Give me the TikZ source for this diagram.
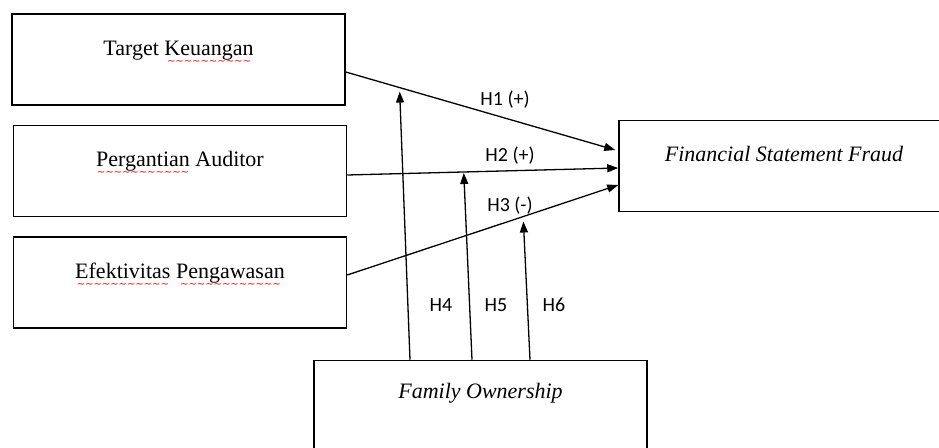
\documentclass[tikz,border=0pt]{standalone}
\usepackage{fontspec}
\setmainfont{Liberation Serif}
\newfontfamily\hfont{Carlito}
\newfontfamily\wfont{DejaVu Sans}
\usetikzlibrary{arrows.meta,calc}
\newcommand\spell[1]{\setbox0\hbox{#1}\rlap{\copy0}%
   \raisebox{-4.4pt}{\hbox to\wd0{\color{red}\wfont\fontsize{5}{5}\selectfont\cleaders\hbox{\char"223C}\hfill}}}

\begin{document}
\begin{tikzpicture}[x=0.5pt,y=-0.5pt,
   box/.style={draw,line width=0.75pt,minimum width=166.5pt,minimum height=45.5pt,
     inner sep=0pt,text height=8pt,text depth=12pt,font=\fontsize{11}{13}\selectfont},
   link/.style={-{Triangle[length=5.5pt,width=4pt]},line width=0.65pt},
   hyp/.style={font=\hfont\fontsize{10}{12}\selectfont}]
   \useasboundingbox (0,0) rectangle (939,448);
   % variables
   \node[box] (tk) at (178.5,59.5) {Target \spell{Keuangan}};
   \node[box] (pa) at (180,171) {\spell{Pergantian} Auditor};
   \node[box] (ep) at (180,282.5) {\spell{Efektivitas} \spell{Pengawasan}};
   \node[box,minimum width=165pt] (fsf) at (784,166) {\itshape Financial Statement Fraud};
   \node[box,text depth=15pt] (fo) at (480.5,406) {\itshape Family Ownership};
   % direct effects
   \draw[link] ($(tk.east)+(0,12.5)$) -- coordinate[pos=0.2] (m1) ($(fsf.west)+(-3,-16)$);
   \draw[link] ($(pa.east)+(0,4)$) -- coordinate[pos=0.43] (m2) ($(fsf.west)+(0,2)$);
   \draw[link] ($(ep.east)+(0,-7.5)$) -- coordinate[pos=0.65] (m3) ($(fsf.west)+(0,19)$);
   % moderation
   \draw[link] ($(fo.north)+(-70.5,0)$) -- ($(m1)+(0,4)$);
   \draw[link] ($(fo.north)+(-8.5,0)$) -- ($(m2)+(0,1)$);
   \draw[link] ($(fo.north)+(49.5,0)$) -- ($(m3)+(0,5)$);
   % labels
   \node[hyp] (h1) at (505,100) {H1 (+)};
   \node[hyp] (h2) at (510,156) {H2 (+)};
   \node[hyp] (h3) at (510,206) {H3 (-)};
   \node[hyp] (h4) at (441,305) {H4};
   \node[hyp] (h5) at (496,305) {H5};
   \node[hyp] (h6) at (554,305) {H6};
\end{tikzpicture}
\end{document}
